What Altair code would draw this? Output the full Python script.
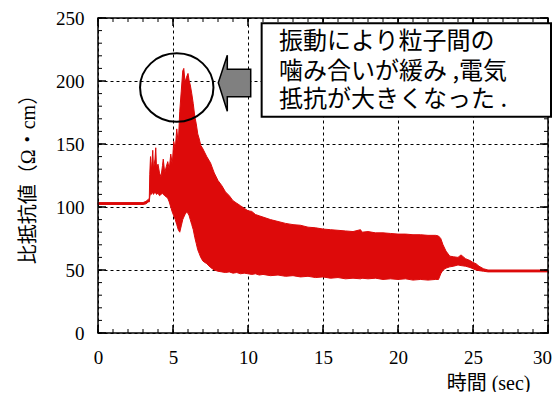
import altair as alt
import pandas as pd

# ---- data ----
times = [0.0, 1.0, 2.0, 3.0, 3.2, 3.35, 3.42, 3.45, 3.5, 3.55, 3.6, 3.65, 3.7, 3.8, 3.85, 3.9,
         4.0, 4.1, 4.2, 4.3, 4.35, 4.45, 4.55, 4.65, 4.75, 4.85, 4.95, 5.05, 5.15, 5.25, 5.35,
         5.45, 5.55, 5.65, 5.72, 5.8, 5.9, 6.0, 6.08, 6.15, 6.25, 6.35, 6.45, 6.55, 6.65, 6.75,
         6.85, 7.0, 7.25, 7.5, 7.75, 8.0, 8.25, 8.5, 8.75, 9.0, 9.25, 9.5, 9.75, 10.0, 10.25,
         10.5, 10.75, 11.0, 11.5, 12.0, 12.5, 13.0, 13.5, 14.0, 14.5, 15.0, 15.5, 16.0, 16.5,
         17.0, 17.5, 17.6, 18.0, 18.5, 19.0, 19.5, 20.0, 20.5, 21.0, 21.5, 22.0, 22.5, 22.7,
         22.85, 23.0, 23.2, 23.45, 23.7, 24.0, 24.2, 24.5, 24.8, 25.0, 25.2, 25.4, 25.7, 26.0,
         28.0, 30.0]
lows = [102, 102, 102, 102, 102.5, 104, 104, 108, 111, 110, 112, 111, 110, 112, 111, 110,
        111, 109, 110, 111, 110, 109, 108, 107, 104, 100, 96, 93, 90, 86, 82,
        80, 85, 90, 92, 94, 96, 95, 93, 90, 86, 82, 76, 71, 66, 63,
        60, 57, 55, 52, 50, 49, 48.5, 48, 48.5, 47.5, 48, 47, 47.5, 47, 46.5,
        47, 46, 46.5, 45.5, 46, 45, 45.5, 44.5, 45, 44, 44.5, 43.5, 44, 43,
        43.5, 43, 43.5, 43, 43.5, 42.5, 43, 42.5, 43, 42, 42.5, 42, 42.5, 42.5,
        47, 50, 51.5, 52.5, 53, 54, 53.5, 53, 52, 51, 50, 49.5, 49, 48.5,
        48.5, 48.5]
highs = [103.5, 103.5, 103.5, 103.5, 104.5, 106, 107, 126, 140, 128, 136, 145, 130, 138, 147, 131,
         134, 127, 124, 133, 138, 127, 132, 136, 130, 142, 134, 152, 146, 162, 150,
         176, 192, 208, 210, 199, 203, 206, 200, 197, 190, 182, 172, 166, 158, 154,
         149, 146, 140, 135, 127, 121, 117, 112, 109, 105, 103, 101, 99, 97, 96.5,
         94, 93, 92, 90, 88.5, 87, 86, 85.5, 84, 83.5, 82.5, 82, 81.5, 81,
         80.5, 82, 80, 80.5, 79.5, 79.5, 79, 78.5, 78.5, 78, 78, 77.5, 77.5, 77,
         75, 70, 65, 61, 60.5, 60, 62, 59, 57.5, 56, 55, 53, 51, 50,
         50, 50]

x_labels = [0, 5, 10, 15, 20, 25, 30]
y_labels = [0, 50, 100, 150, 200, 250]
x_minor = list(range(0, 31))
y_minor = list(range(0, 251, 10))

note_lines = ["振動により粒子間の", "噛み合いが緩み ,電気", "抵抗が大きくなった ."]
x_title = "時間 (sec)"
y_title = "比抵抗値（Ω・cm）"

# ---- layout ----
W, H = 450, 315
RED = "#dd0a0a"
SERIF = "Liberation Serif, Noto Sans CJK JP"
SANS = "Noto Sans CJK JP"

xs = alt.Scale(domain=[0, 30], nice=False, zero=False)
ys = alt.Scale(domain=[0, 250], nice=False, zero=False)

AX = alt.Axis(
    values=x_labels, ticks=False, domain=False, grid=True,
    gridColor="black", gridDash=[3, 3], gridWidth=1, gridOpacity=1,
    labelFont=SERIF, labelFontSize=19, labelColor="black", labelPadding=15,
    labelFlush=False,
    labelOffset={"condition": {"test": "datum.value === 30", "value": -6}, "value": 0},
    title=x_title, titleFont=SERIF, titleFontSize=20, titleFontWeight="normal",
    titleColor="black", titleAlign="right", titleBaseline="middle",
    titleX=432, titleY=50, titleAngle=0)
AY = alt.Axis(
    values=y_labels, ticks=False, domain=False, grid=True,
    gridColor="black", gridDash=[3, 3], gridWidth=1, gridOpacity=1,
    labelFont=SERIF, labelFontSize=19, labelColor="black", labelPadding=14,
    labelFlush=False,
    title=y_title, titleFont=SERIF, titleFontSize=20, titleFontWeight="normal",
    titleColor="black", titleAlign="center", titleBaseline="middle",
    titleAngle=270, titleX=-70, titleY=156)

df = pd.DataFrame({"t": times, "lo": lows, "hi": highs})

area = alt.Chart(df).mark_area(color=RED, stroke=RED, strokeWidth=1, opacity=1).encode(
    x=alt.X("t:Q", scale=xs, axis=AX),
    y=alt.Y("lo:Q", scale=ys, axis=AY),
    y2="hi:Q",
)

one = pd.DataFrame({"a": [0]})
frame = alt.Chart(one).mark_rect(filled=False, stroke="black", strokeWidth=1.5).encode(
    x=alt.value(0), x2=alt.value(W), y=alt.value(0), y2=alt.value(H))

def xticks(vals, y0, y1, w):
    return alt.Chart(pd.DataFrame({"v": vals})).mark_rule(color="black", strokeWidth=w).encode(
        x=alt.X("v:Q", scale=xs, axis=AX), y=alt.value(y0), y2=alt.value(y1))

def yticks(vals, x0, x1, w):
    return alt.Chart(pd.DataFrame({"v": vals})).mark_rule(color="black", strokeWidth=w).encode(
        y=alt.Y("v:Q", scale=ys, axis=AY), x=alt.value(x0), x2=alt.value(x1))

ticks = [
    xticks(x_minor, H, H - 4, 1), xticks(x_labels, H, H - 8, 1.5),
    xticks(x_minor, 0, 4, 1), xticks(x_labels, 0, 8, 1.5),
    yticks(y_minor, 0, 4, 1), yticks(y_labels, 0, 8, 1.5),
    yticks(y_minor, W, W - 4, 1), yticks(y_labels, W, W - 8, 1.5),
]

ellipse_path = ("M 1 0 C 1 0.5147 0.5523 0.932 0 0.932 C -0.5523 0.932 -1 0.5147 -1 0 "
                "C -1 -0.5147 -0.5523 -0.932 0 -0.932 C 0.5523 -0.932 1 -0.5147 1 0 Z")
ellipse = alt.Chart(pd.DataFrame({"x": [5.25], "y": [194.8]})).mark_point(
    shape=ellipse_path, size=5388, filled=False, stroke="black", strokeWidth=2, opacity=1
).encode(x=alt.X("x:Q", scale=xs, axis=AX), y=alt.Y("y:Q", scale=ys, axis=AY))

arrow_path = ("M -0.579 -0.02 L -0.257 -1.0 L -0.257 -0.5 L 0.579 -0.5 L 0.579 0.479 "
              "L -0.257 0.479 L -0.257 1.0 Z")
arrow = alt.Chart(pd.DataFrame({"x": [9.1], "y": [198.2]})).mark_point(
    shape=arrow_path, size=3136, filled=True, fill="#808080", stroke="black",
    strokeWidth=1.5, opacity=1, fillOpacity=1
).encode(x=alt.X("x:Q", scale=xs, axis=AX), y=alt.Y("y:Q", scale=ys, axis=AY))

box = alt.Chart(pd.DataFrame({"x": [10.91], "x2": [30.2], "y": [245.8], "y2": [171.7]})).mark_rect(
    fill="white", stroke="black", strokeWidth=2
).encode(x=alt.X("x:Q", scale=xs, axis=AX), x2="x2:Q",
         y=alt.Y("y:Q", scale=ys, axis=AY), y2="y2:Q")

note = alt.Chart(pd.DataFrame({"txt": note_lines, "x": [12.07] * 3, "y": [230.6, 207.4, 184.9]})).mark_text(
    align="left", baseline="middle", font=SANS, fontSize=24, color="black"
).encode(x=alt.X("x:Q", scale=xs, axis=AX), y=alt.Y("y:Q", scale=ys, axis=AY), text="txt:N")

chart = alt.layer(area, frame, *ticks, ellipse, arrow, box, note).properties(
    width=W, height=H, background="white",
    autosize=alt.AutoSizeParams(type="none"),
    padding={"left": 90, "top": 10, "right": 4, "bottom": 59},
).configure_view(stroke=None)

chart.save("out.html", embed_options={"renderer": "svg", "actions": False})
